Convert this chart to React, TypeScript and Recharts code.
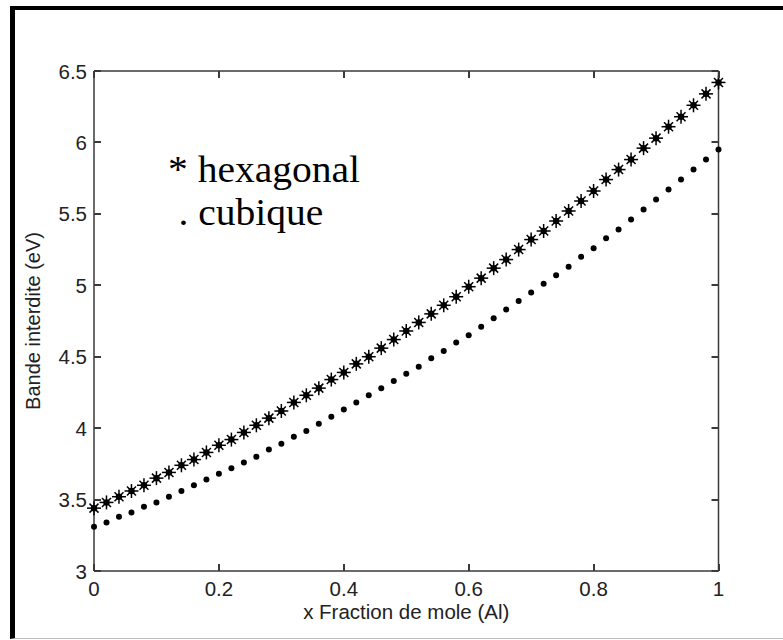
import { Scatter, ScatterChart, XAxis, YAxis } from "recharts";

// mole fraction x (Al), step 0.02
const fractions = [
  0, 0.02, 0.04, 0.06, 0.08, 0.1, 0.12, 0.14, 0.16, 0.18, 0.2, 0.22, 0.24, 0.26, 0.28, 0.3, 0.32, 0.34,
  0.36, 0.38, 0.4, 0.42, 0.44, 0.46, 0.48, 0.5, 0.52, 0.54, 0.56, 0.58, 0.6, 0.62, 0.64, 0.66, 0.68,
  0.7, 0.72, 0.74, 0.76, 0.78, 0.8, 0.82, 0.84, 0.86, 0.88, 0.9, 0.92, 0.94, 0.96, 0.98, 1,
];

// band gap (eV)
const hexagonal = [
  3.44, 3.48, 3.52, 3.56, 3.6, 3.65, 3.69, 3.74, 3.78, 3.83, 3.88, 3.92, 3.97, 4.02, 4.07, 4.12, 4.18,
  4.23, 4.28, 4.34, 4.39, 4.45, 4.5, 4.56, 4.62, 4.68, 4.74, 4.8, 4.86, 4.92, 4.99, 5.05, 5.12, 5.18,
  5.25, 5.32, 5.38, 5.45, 5.52, 5.59, 5.66, 5.74, 5.81, 5.88, 5.96, 6.03, 6.11, 6.18, 6.26, 6.34, 6.42,
];

const cubique = [
  3.31, 3.34, 3.38, 3.41, 3.45, 3.48, 3.52, 3.56, 3.6, 3.64, 3.68, 3.72, 3.76, 3.8, 3.85, 3.89, 3.94,
  3.98, 4.03, 4.08, 4.13, 4.18, 4.23, 4.28, 4.33, 4.38, 4.43, 4.49, 4.54, 4.6, 4.65, 4.71, 4.77, 4.83,
  4.89, 4.95, 5.01, 5.07, 5.13, 5.2, 5.26, 5.33, 5.39, 5.46, 5.53, 5.6, 5.67, 5.74, 5.81, 5.88, 5.95,
];

const xTicks = [0, 0.2, 0.4, 0.6, 0.8, 1];
const yTicks = [3, 3.5, 4, 4.5, 5, 5.5, 6, 6.5];

const hexData = fractions.map((x, i) => ({ x, y: hexagonal[i] }));
const cubData = fractions.map((x, i) => ({ x, y: cubique[i] }));

const AXIS = "#3a3a3a";
const SANS = "'Liberation Sans', Arial, sans-serif";
const TICK_FONT = { fontFamily: SANS, fontSize: 20.5, fill: "#222" };
const axisLine = { stroke: AXIS, strokeWidth: 1.5 };
const TICK_LEN = 7;
// plot box edges (match the margins below) for the mirrored top/right ticks
const PLOT_TOP = 71;
const PLOT_RIGHT = 718.5;

const StarMark = (p: any) => {
  const { cx, cy } = p;
  return (
    <g stroke="#000" strokeWidth={1.5}>
      <line x1={cx - 7} y1={cy} x2={cx + 7} y2={cy} />
      <line x1={cx} y1={cy - 7} x2={cx} y2={cy + 7} />
      <line x1={cx - 4.5} y1={cy - 4.5} x2={cx + 4.5} y2={cy + 4.5} />
      <line x1={cx - 4.5} y1={cy + 4.5} x2={cx + 4.5} y2={cy - 4.5} />
      <circle cx={cx} cy={cy} r={2.5} fill="#000" />
    </g>
  );
};

const DotMark = (p: any) => <circle cx={p.cx} cy={p.cy} r={3} fill="#000" />;

// inward ticks on both sides of the box, labels only bottom/left
const BottomTick = ({ x, y, payload }: any) => {
  const sx = Math.round(x);
  return (
    <g>
      <path
        d={`M${sx},${y}V${y - TICK_LEN}M${sx},${PLOT_TOP}V${PLOT_TOP + TICK_LEN}`}
        stroke={AXIS}
        strokeWidth={2}
        fill="none"
      />
      <text x={x} y={y + 25} textAnchor="middle" {...TICK_FONT}>
        {payload.value}
      </text>
    </g>
  );
};

const LeftTick = ({ x, y, payload }: any) => {
  const sy = Math.round(y);
  return (
    <g>
      <path
        d={`M${x},${sy}H${x + TICK_LEN}M${PLOT_RIGHT},${sy}H${PLOT_RIGHT - TICK_LEN}`}
        stroke={AXIS}
        strokeWidth={2}
        fill="none"
      />
      <text x={x - 7} y={y + 7.5} textAnchor="end" {...TICK_FONT}>
        {payload.value}
      </text>
    </g>
  );
};

const YLabel = ({ viewBox }: any) => {
  const cx = 40;
  const cy = viewBox.y + viewBox.height / 2;
  return (
    <text
      x={cx}
      y={cy}
      transform={`rotate(-90, ${cx}, ${cy})`}
      textAnchor="middle"
      fontFamily={SANS}
      fontSize={20}
      fill="#222"
    >
      Bande interdite (eV)
    </text>
  );
};

export default function App() {
  return (
    <div style={{ position: "absolute", left: 0, top: 0, width: 783, height: 640, background: "#fff" }}>
      <div
        style={{
          position: "absolute",
          left: 10,
          top: 6,
          right: 0,
          bottom: 1,
          borderLeft: "5px solid #000",
          borderTop: "4px solid #000",
          borderBottom: "1px solid #bbb",
        }}
      />
      <div style={{ position: "absolute", left: 0, top: 0 }}>
        <ScatterChart width={783} height={640} margin={{ top: 70, right: 63.5, bottom: 0, left: 0 }}>
          <XAxis
            xAxisId="b"
            type="number"
            dataKey="x"
            domain={[0, 1]}
            ticks={xTicks}
            interval={0}
            height={69}
            tickSize={0}
            tickMargin={0}
            axisLine={axisLine}
            tickLine={false}
            tick={BottomTick}
            label={{
              value: "x Fraction de mole (Al)",
              position: "insideBottom",
              offset: 21,
              style: { fontFamily: SANS, fontSize: 20.5, fill: "#222" },
            }}
          />
          <XAxis
            xAxisId="t"
            orientation="top"
            type="number"
            domain={[0, 1]}
            height={1}
            axisLine={axisLine}
            tickLine={false}
            tick={false}
          />
          <YAxis
            yAxisId="l"
            type="number"
            dataKey="y"
            domain={[3, 6.5]}
            ticks={yTicks}
            interval={0}
            width={94}
            tickSize={0}
            tickMargin={0}
            axisLine={axisLine}
            tickLine={false}
            tick={LeftTick}
            label={<YLabel />}
          />
          <YAxis
            yAxisId="r"
            orientation="right"
            type="number"
            domain={[3, 6.5]}
            width={1}
            axisLine={axisLine}
            tickLine={false}
            tick={false}
          />
          <Scatter
            name="hexagonal"
            data={hexData}
            xAxisId="b"
            yAxisId="l"
            shape={<StarMark />}
            isAnimationActive={false}
          />
          <Scatter
            name="cubique"
            data={cubData}
            xAxisId="b"
            yAxisId="l"
            shape={<DotMark />}
            isAnimationActive={false}
          />
        </ScatterChart>
      </div>
      <div
        style={{
          position: "absolute",
          left: 168,
          top: 148,
          fontFamily: "'Liberation Serif', 'Times New Roman', serif",
          fontSize: 38,
          lineHeight: "43px",
          color: "#000",
          whiteSpace: "pre",
          transform: "scaleX(1.04)",
          transformOrigin: "left top",
        }}
      >
        <div>* hexagonal</div>
        <div style={{ paddingLeft: 10 }}>. cubique</div>
      </div>
    </div>
  );
}
